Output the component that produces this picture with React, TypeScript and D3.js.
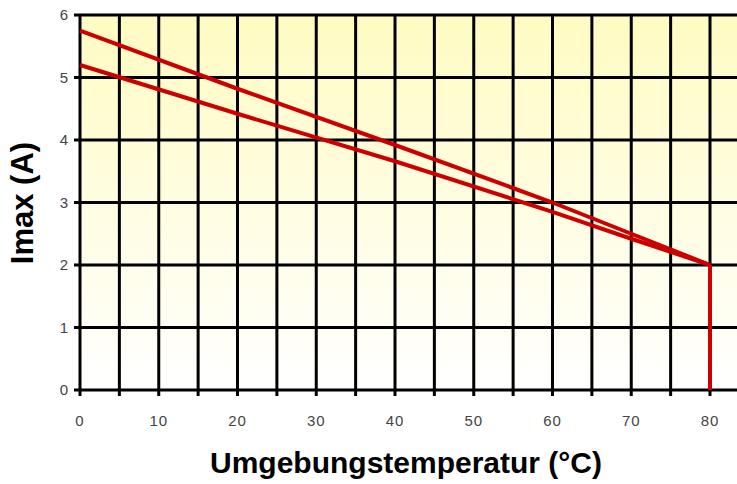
import React from 'react';
import * as d3 from 'd3';

// temperatures (°C) and max current (A) for the two curves
const temps = [0, 20, 40, 60, 70, 80];
const upperCurve = [5.75, 4.82, 3.92, 3.0, 2.5, 2.0];
const lowerCurve = [5.2, 4.42, 3.66, 2.85, 2.42, 2.0];
const cutoff = [{ x: 80, y: 2 }, { x: 80, y: 0 }];

const xTicks = [0, 10, 20, 30, 40, 50, 60, 70, 80];
const xGrid = d3.range(0, 85, 5);
const yTicks = [0, 1, 2, 3, 4, 5, 6];

const W = 737;
const H = 484;

function App() {
  const left = 80, top = 15, bottom = 390;
  const x = d3.scaleLinear().domain([0, 80]).range([left, 710]);
  const y = d3.scaleLinear().domain([0, 6]).range([bottom, top]);
  const line = d3.line<{ x: number; y: number }>().x(d => x(d.x)).y(d => y(d.y));

  const upper = temps.map((t, i) => ({ x: t, y: upperCurve[i] }));
  const lower = temps.map((t, i) => ({ x: t, y: lowerCurve[i] }));

  return (
    <svg width={W} height={H} style={{ position: 'absolute', left: 0, top: 0, fontFamily: 'Liberation Sans, Arial, sans-serif' }}>
      <defs>
        <linearGradient id="bg" x1="0" y1="0" x2="0" y2="1">
          <stop offset="0" stopColor="#fffbc2" />
          <stop offset="1" stopColor="#ffffff" />
        </linearGradient>
      </defs>
      <rect width={W} height={H} fill="#fff" />
      <rect x={left} y={top} width={W - left} height={bottom - top} fill="url(#bg)" />

      {/* grid */}
      {xGrid.map(v => (
        <line key={'gx' + v} x1={x(v)} x2={x(v)} y1={top} y2={bottom + 6} stroke="#000" strokeWidth={3} />
      ))}
      {yTicks.map(v => (
        <line key={'gy' + v} x1={left - 6} x2={W} y1={y(v)} y2={y(v)} stroke="#000" strokeWidth={3} />
      ))}

      {/* tick labels */}
      {yTicks.map(v => (
        <text key={'ty' + v} x={left - 12} y={y(v)} dy="0.36em" textAnchor="end" fontSize={15} fill="#444">{v}</text>
      ))}
      {xTicks.map(v => (
        <text key={'tx' + v} x={x(v)} y={bottom + 36} textAnchor="middle" fontSize={15} letterSpacing={1} fill="#444">{v}</text>
      ))}

      {/* curves */}
      <path d={line(upper) || ''} fill="none" stroke="#cc0000" strokeWidth={4} />
      <path d={line(lower) || ''} fill="none" stroke="#cc0000" strokeWidth={4} />
      <path d={line(cutoff) || ''} fill="none" stroke="#cc0000" strokeWidth={4} />

      {/* axis titles */}
      <text transform={`translate(33,203) rotate(-90)`} textAnchor="middle" fontSize={31} fontWeight="bold" fill="#000">Imax (A)</text>
      <text x={406} y={473} textAnchor="middle" fontSize={30} fontWeight="bold" fill="#000">Umgebungstemperatur (°C)</text>
    </svg>
  );
}

export default App;
